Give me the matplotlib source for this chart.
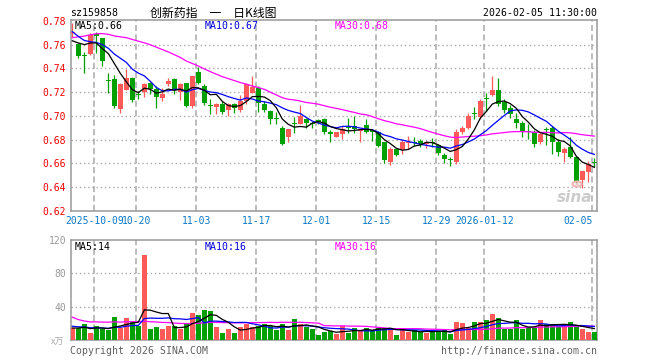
import numpy as np
import pandas as pd
import matplotlib
matplotlib.use("Agg")
import matplotlib.pyplot as plt
from matplotlib.patches import Circle
from matplotlib.transforms import blended_transform_factory

# ---------------- data ----------------
tick_idx = [4, 11, 21, 31, 41, 51, 61, 69, 87]
tick_labels = ['2025-10-09', '10-20', '11-03', '11-17', '12-01',
               '12-15', '12-29', '2026-01-12', '02-05']

opens = [0.7700, 0.7606, 0.7508, 0.7522, 0.7687, 0.7655, 0.7302, 0.7312, 0.7056, 0.7215,
         0.7321, 0.7180, 0.7204, 0.7276, 0.7226, 0.7154, 0.7265, 0.7312, 0.7204, 0.7276,
         0.7084, 0.7371, 0.7251, 0.7086, 0.7075, 0.7103, 0.7047, 0.7103, 0.7047, 0.7126,
         0.7195, 0.7237, 0.7103, 0.7042, 0.6975, 0.6902, 0.6824, 0.6933, 0.6936, 0.6972,
         0.6939, 0.6964, 0.6972, 0.6855, 0.6824, 0.6847, 0.6905, 0.6916, 0.6874, 0.6925,
         0.6872, 0.6866, 0.6777, 0.6609, 0.6721, 0.6713, 0.6774, 0.6780, 0.6791, 0.6768,
         0.6774, 0.6757, 0.6671, 0.6632, 0.6609, 0.6861, 0.6902, 0.7023, 0.6992, 0.7142,
         0.7176, 0.7215, 0.7117, 0.7070, 0.6978, 0.6944, 0.6869, 0.6861, 0.6785, 0.6883,
         0.6902, 0.6777, 0.6685, 0.6735, 0.6657, 0.6462, 0.6529, 0.6604]
highs = [0.7786, 0.7615, 0.7542, 0.7697, 0.7711, 0.7660, 0.7363, 0.7349, 0.7280, 0.7399,
         0.7327, 0.7210, 0.7276, 0.7285, 0.7251, 0.7237, 0.7321, 0.7321, 0.7279, 0.7279,
         0.7335, 0.7410, 0.7265, 0.7145, 0.7106, 0.7126, 0.7112, 0.7106, 0.7176, 0.7279,
         0.7335, 0.7251, 0.7126, 0.7047, 0.7033, 0.6916, 0.6894, 0.6992, 0.7092, 0.6986,
         0.6955, 0.6972, 0.6986, 0.6880, 0.6866, 0.6916, 0.6986, 0.7000, 0.6888, 0.6978,
         0.6888, 0.6875, 0.6785, 0.6735, 0.6729, 0.6796, 0.6833, 0.6819, 0.6805, 0.6791,
         0.6813, 0.6768, 0.6685, 0.6652, 0.6888, 0.6916, 0.7028, 0.7075, 0.7139, 0.7195,
         0.7335, 0.7321, 0.7139, 0.7092, 0.7028, 0.6958, 0.6930, 0.6880, 0.6860, 0.6908,
         0.6913, 0.6805, 0.6735, 0.6819, 0.6666, 0.6534, 0.6624, 0.6646]
lows = [0.7668, 0.7490, 0.7360, 0.7515, 0.7530, 0.7424, 0.7195, 0.7070, 0.7028, 0.7215,
        0.7120, 0.7140, 0.7162, 0.7182, 0.7064, 0.7126, 0.7251, 0.7187, 0.7131, 0.7075,
        0.7064, 0.7265, 0.7092, 0.7014, 0.7014, 0.7014, 0.6997, 0.7028, 0.7036, 0.7103,
        0.7190, 0.7036, 0.7036, 0.6936, 0.6930, 0.6755, 0.6785, 0.6860, 0.6936, 0.6902,
        0.6902, 0.6930, 0.6852, 0.6785, 0.6819, 0.6805, 0.6860, 0.6860, 0.6785, 0.6860,
        0.6790, 0.6740, 0.6601, 0.6590, 0.6665, 0.6679, 0.6721, 0.6749, 0.6740, 0.6729,
        0.6735, 0.6674, 0.6601, 0.6582, 0.6595, 0.6850, 0.6888, 0.6972, 0.6972, 0.7042,
        0.7170, 0.7084, 0.7028, 0.6980, 0.6897, 0.6819, 0.6805, 0.6735, 0.6760, 0.6757,
        0.6679, 0.6665, 0.6611, 0.6650, 0.6434, 0.6395, 0.6443, 0.6573]
closes = [0.7705, 0.7508, 0.7502, 0.7685, 0.7675, 0.7466, 0.7298, 0.7084, 0.7271, 0.7321,
          0.7131, 0.7176, 0.7271, 0.7223, 0.7159, 0.7187, 0.7293, 0.7215, 0.7271, 0.7084,
          0.7335, 0.7279, 0.7112, 0.7084, 0.7103, 0.7036, 0.7103, 0.7070, 0.7126, 0.7271,
          0.7243, 0.7112, 0.7047, 0.6972, 0.6972, 0.6768, 0.6888, 0.6930, 0.7000, 0.6944,
          0.6936, 0.6953, 0.6869, 0.6852, 0.6861, 0.6888, 0.6902, 0.6888, 0.6888, 0.6869,
          0.6869, 0.6749, 0.6629, 0.6721, 0.6674, 0.6785, 0.6780, 0.6774, 0.6768, 0.6785,
          0.6771, 0.6685, 0.6637, 0.6629, 0.6861, 0.6902, 0.7000, 0.7020, 0.7126, 0.7139,
          0.7215, 0.7103, 0.7047, 0.7014, 0.6944, 0.6869, 0.6866, 0.6768, 0.6847, 0.6880,
          0.6785, 0.6693, 0.6721, 0.6657, 0.6451, 0.6534, 0.6596, 0.6601]
volumes = [13.9, 14.8, 18.8, 7.9, 17.2, 13.1, 11.5, 27.3, 14.8, 26.1,
           22.0, 16.4, 101.6, 12.7, 15.2, 12.7, 16.8, 16.8, 13.1, 19.2,
           32.1, 29.7, 36.2, 34.5, 15.2, 7.9, 12.7, 8.7, 15.2, 18.8,
           16.0, 17.2, 18.8, 16.4, 11.5, 19.6, 11.5, 24.9, 18.8, 15.6,
           13.1, 5.9, 9.9, 10.3, 7.1, 17.2, 7.9, 13.9, 10.7, 13.9,
           12.3, 14.8, 14.8, 14.8, 5.5, 12.7, 9.1, 11.9, 9.9, 7.9,
           11.1, 11.1, 11.9, 6.7, 21.6, 20.0, 14.8, 21.2, 21.2, 23.6,
           30.9, 26.1, 13.1, 13.1, 23.6, 12.7, 14.8, 14.8, 23.6, 18.8,
           19.6, 16.0, 16.0, 21.2, 16.0, 12.7, 9.1, 9.5]
# closes / volumes of the 29 sessions before the visible window (inferred from the MA lines)
hist_close = [0.728, 0.732, 0.736, 0.740, 0.744, 0.747, 0.749, 0.751, 0.753, 0.757,
              0.762, 0.768, 0.772, 0.776, 0.781, 0.787, 0.792, 0.797, 0.799, 0.796,
              0.790, 0.785, 0.779, 0.773, 0.766, 0.760, 0.757, 0.762, 0.767]
hist_vol = [105, 70, 40, 16, 20, 14, 18, 22, 15, 19, 17, 85, 30, 25, 28, 22, 35, 26,
            24, 28, 22, 20, 18, 17, 16.5, 15, 14, 16, 13]

price_ticks = [0.62, 0.64, 0.66, 0.68, 0.70, 0.72, 0.74, 0.76, 0.78]
vol_ticks = [40, 80, 120]

# ---------------- styling ----------------
UP, DOWN = '#ff5a5a', '#00a000'
GRID = '#aaaaaa'
MONO = 'DejaVu Sans Mono'
plt.rcParams['font.family'] = ['DejaVu Sans Mono', 'Noto Sans CJK SC']

W, H = 660, 360
fig = plt.figure(figsize=(W / 100, H / 100), dpi=100)
fig.patch.set_facecolor('white')


def fx(x):
    return x / W


def fy(y):
    return 1 - y / H


ax = fig.add_axes([fx(71), fy(211), (597 - 71) / W, (211 - 20) / H])
axv = fig.add_axes([fx(71), fy(340), (597 - 71) / W, (340 - 240) / H])

o = np.array(opens)
h = np.array(highs)
l = np.array(lows)
c = np.array(closes)
v = np.array(volumes)
x = np.arange(len(c))
cols = np.where(c > o, UP, DOWN)

close_all = pd.Series(hist_close + closes)
vol_all = pd.Series(hist_vol + volumes)
n_h = len(hist_close)
ma = {k: close_all.rolling(k).mean().values[n_h:] for k in (5, 10, 30)}
vma = {k: vol_all.rolling(k).mean().values[n_h:] for k in (5, 10, 30)}

xl = (-0.22, 87.45)
for a in (ax, axv):
    a.set_xlim(*xl)
    for s in a.spines.values():
        s.set_color('#999999')
        s.set_linewidth(1.1)
    a.set_xticks([])
    a.tick_params(axis='y', length=0, pad=3.6, labelsize=7)
    for t in tick_idx:
        a.axvline(t - 0.33, color=GRID, lw=1.1, ls=(0, (4, 2.2)), zorder=1)

# price panel
ax.set_ylim(0.62, 0.7808)
ax.set_yticks(price_ticks)
ax.set_yticklabels(['%.2f' % p for p in price_ticks], color='#ee0000', family=MONO)
for p in price_ticks[1:-1]:
    ax.axhline(p, color=GRID, lw=1, ls=(0, (1, 2)), zorder=1)

ax.vlines(x, l, h, colors=cols, lw=0.9, zorder=3)
body_bottom = np.minimum(o, c)
body_h = np.maximum(np.abs(c - o), 0.0009)
ax.bar(x, body_h, bottom=body_bottom, width=0.78, color=cols, lw=0, zorder=3)

ax.plot(x, ma[30], color='#ff00ff', lw=0.9, zorder=4)
ax.plot(x, ma[10], color='#0000ff', lw=0.9, zorder=5)
ax.plot(x, ma[5], color='#000000', lw=0.9, zorder=6)

# volume panel
axv.set_ylim(0, 120)
axv.set_yticks(vol_ticks)
axv.set_yticklabels([str(t) for t in vol_ticks], color='#999999', family=MONO)
for t in (40, 80):
    axv.axhline(t, color=GRID, lw=1, ls=(0, (1, 2)), zorder=1)
axv.bar(x, v, width=0.78, color=cols, lw=0, zorder=3)
axv.plot(x, vma[30], color='#ff00ff', lw=0.9, zorder=4)
axv.plot(x, vma[10], color='#0000ff', lw=0.9, zorder=5)
axv.plot(x, vma[5], color='#000000', lw=0.9, zorder=6)

# date labels
tr = blended_transform_factory(ax.transData, fig.transFigure)
for i, lab in zip(tick_idx, tick_labels):
    ha = 'right' if i == tick_idx[-1] else 'center'
    ax.text(i - 0.33, fy(220.5), lab, transform=tr, ha=ha, va='center',
            color='#0a78c8', fontsize=7, family=MONO)

# texts
fs = 7.1
fig.text(fx(70), fy(13), 'sz159858', ha='left', va='center', fontsize=fs, family=MONO)
fig.text(fx(213), fy(13), '创新药指\u3000一\u3000日K线图', ha='center', va='center',
         fontsize=8.6, family=['Noto Sans CJK SC', 'DejaVu Sans'])
fig.text(fx(597), fy(13), '2026-02-05 11:30:00', ha='right', va='center',
         fontsize=fs, family=MONO)

fig.text(fx(75), fy(26), 'MA5:%.2f' % ma[5][-1], ha='left', va='center',
         fontsize=fs, family=MONO, color='black')
fig.text(fx(205), fy(26), 'MA10:%.2f' % ma[10][-1], ha='left', va='center',
         fontsize=fs, family=MONO, color='#0000dd')
fig.text(fx(335), fy(26), 'MA30:%.2f' % ma[30][-1], ha='left', va='center',
         fontsize=fs, family=MONO, color='#ff00ff')

fig.text(fx(75), fy(247), 'MA5:%d' % round(vma[5][-1]), ha='left', va='center',
         fontsize=fs, family=MONO, color='black')
fig.text(fx(205), fy(247), 'MA10:%d' % round(vma[10][-1]), ha='left', va='center',
         fontsize=fs, family=MONO, color='#0000dd')
fig.text(fx(335), fy(247), 'MA30:%d' % round(vma[30][-1]), ha='left', va='center',
         fontsize=fs, family=MONO, color='#ff00ff')

fig.text(fx(64), fy(342), 'x万', ha='right', va='center', fontsize=6.5,
         color='#aaaaaa', family=['Noto Sans CJK SC', 'DejaVu Sans'], style='italic')

fig.text(fx(70), fy(351), 'Copyright 2026 SINA.COM', ha='left', va='center',
         fontsize=fs, family=MONO, color='#606060')
fig.text(fx(597), fy(351), 'http://finance.sina.com.cn', ha='right', va='center',
         fontsize=fs, family=MONO, color='#606060')

# sina watermark
fig.text(fx(575), fy(197), 'sina', ha='center', va='center', fontsize=11,
         family='DejaVu Sans', weight='bold', style='italic', color='#cccccc')
fig.patches.append(Circle((fx(577), fy(184)), 4.5 / W, transform=fig.transFigure,
                          facecolor='none', edgecolor='#f2b8b8', lw=1.6))
fig.patches.append(Circle((fx(577), fy(184)), 1.6 / W, transform=fig.transFigure,
                          facecolor='#f2b8b8', edgecolor='none'))

fig.savefig('out.png', dpi=100, facecolor='white')
